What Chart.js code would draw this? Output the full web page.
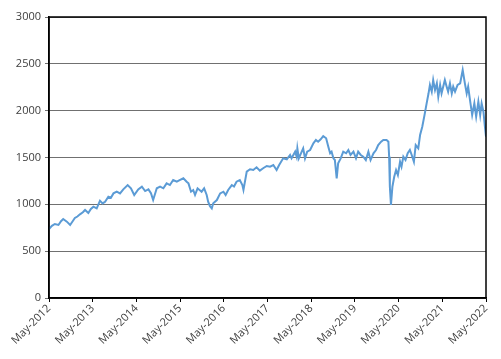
<!DOCTYPE html>
<html>
<head>
<meta charset="utf-8">
<script src="https://cdn.jsdelivr.net/npm/chart.js@4/dist/chart.umd.min.js"></script>
<style>
  html, body { margin: 0; padding: 0; background: #fff; }
  #wrap { width: 501px; height: 359px; }
</style>
</head>
<body>
<div id="wrap"><canvas id="grafico"></canvas></div>
<script>
// months after May-2012
const meses = [
  0, 0.8, 1.6, 2.6, 3.3, 3.9, 4.9, 5.8, 6.5, 7.1, 7.8, 8.5, 9.3, 9.9, 10.8, 11.5,
  12.2, 13.1, 14.0, 14.7, 15.4, 16.3, 17.0, 17.7, 18.6, 19.5, 20.4, 21.6, 22.5, 23.4,
  24.5, 25.5, 26.4, 27.3, 28.0, 28.6, 29.6, 30.5, 31.4, 32.3, 33.2, 34.1, 35.1,
  36.0, 36.9, 37.8, 38.3, 39.0, 39.6, 40.1, 40.8, 41.9, 42.6, 43.3, 43.7, 44.2, 44.7,
  45.1, 46.1, 47.0, 47.9, 48.5, 49.2, 50.2, 50.8, 51.5, 52.4, 53.1, 53.4, 54.3,
  55.2, 56.1, 57.0, 57.9, 58.8, 59.8,
  60.7, 61.6, 62.5, 63.2, 64.3, 65.3, 66.2, 66.6, 67.6, 68.0, 68.2, 68.6, 69.4,
  69.8, 70.3, 70.9, 71.7, 72.6, 73.3, 73.9, 74.6, 75.3, 76.1, 76.7, 77.2, 77.6,
  78.1, 78.5, 79.0, 79.4, 80.1, 80.8, 81.6, 82.2, 82.8, 83.6, 84.3, 84.9, 85.6,
  86.3, 87.0, 87.7, 88.3, 89.1, 89.8, 90.4, 91.2, 91.8, 92.7, 93.2, 93.4, 93.6,
  93.9, 94.3, 94.8, 95.3, 95.8, 96.4, 96.8, 97.3, 97.9, 98.5, 99.1, 99.6, 100.2,
  100.7, 101.4, 101.9, 102.5, 103.1, 103.7, 104.2, 104.6, 105.1, 105.5, 106.0,
  106.5, 106.9, 107.4, 107.8, 108.7, 109.2, 109.6, 110.1, 110.6, 111.0, 111.5,
  112.2, 112.9, 113.6, 114.2, 114.7, 115.1, 115.6, 116.2, 116.8, 117.3, 117.9,
  118.4, 118.8, 119.3, 119.7, 120
];

const valores = [
  737, 770, 790, 780, 820, 843, 815, 780, 820, 854, 870, 893, 915, 940, 907, 950,
  975, 957, 1039, 1010, 1028, 1081, 1070, 1117, 1135, 1117, 1160, 1206, 1171, 1100,
  1160, 1188, 1142, 1160, 1120, 1046, 1171, 1188, 1171, 1224, 1206, 1260, 1242,
  1260, 1278, 1242, 1224, 1135, 1153, 1100, 1171, 1135, 1171, 1100, 1028, 980, 957,
  1011, 1046, 1117, 1135, 1100, 1153, 1206, 1190, 1242, 1260, 1206, 1153, 1349,
  1374, 1367, 1395, 1360, 1385, 1409,
  1402, 1420, 1367, 1420, 1491, 1480, 1527, 1491, 1562, 1509, 1598, 1491, 1562,
  1598, 1491, 1562, 1580, 1651, 1687, 1669, 1694, 1729, 1705, 1615, 1545, 1562,
  1491, 1473, 1278, 1438, 1491, 1562, 1545, 1580, 1527, 1562, 1491, 1562, 1527,
  1509, 1473, 1562, 1473, 1545, 1580, 1633, 1669, 1687, 1687, 1669, 1509, 1188,
  993, 1188, 1295, 1367, 1313, 1455, 1402, 1509, 1473, 1545, 1580, 1527, 1455,
  1633, 1598, 1740, 1829, 1950, 2078, 2180, 2274, 2203, 2327, 2220,
  2292, 2149, 2274, 2185, 2327, 2256, 2203, 2292, 2185, 2256, 2203,
  2274, 2292, 2434, 2292, 2185, 2256, 2114, 1954, 2078, 1936, 2096,
  1954, 2078, 1989, 1829, 1722
];

const anoInicial = 2012;
const yTicks = [0, 500, 1000, 1500, 2000, 2500, 3000];

const pontos = meses.map((m, i) => ({ x: m, y: valores[i] }));

const moldura = {
  id: "moldura",
  afterDraw(chart) {
    const { ctx, chartArea: a } = chart;
    ctx.save();
    ctx.strokeStyle = "#000";
    ctx.lineWidth = 1.5;
    ctx.strokeRect(a.left, a.top, a.right - a.left, a.bottom - a.top);
    ctx.restore();
  }
};

const fonte = { family: "'Open Sans', 'Noto Sans', sans-serif", size: 11 };

new Chart(document.getElementById("grafico"), {
  type: "line",
  data: {
    datasets: [
      {
        data: pontos,
        borderColor: "#5b9bd5",
        borderWidth: 2,
        pointRadius: 0,
        tension: 0,
        fill: false
      }
    ]
  },
  options: {
    responsive: true,
    maintainAspectRatio: false,
    animation: false,
    layout: { padding: { top: 17, right: 15, left: 0, bottom: 0 } },
    plugins: { legend: { display: false }, tooltip: { enabled: false } },
    scales: {
      x: {
        type: "linear",
        min: 0,
        max: 120,
        ticks: {
          stepSize: 12,
          minRotation: 45,
          maxRotation: 45,
          color: "#404040",
          font: fonte,
          padding: 0,
          callback: (v) => "May-" + (anoInicial + v / 12)
        },
        grid: { drawOnChartArea: false, color: "#000", tickLength: 4 },
        border: { color: "#000", width: 1.5 },
        afterFit: (s) => { s.height = 61; }
      },
      y: {
        min: 0,
        max: 3000,
        afterBuildTicks: (s) => { s.ticks = yTicks.map((v) => ({ value: v })); },
        ticks: { color: "#404040", font: fonte, padding: 4, callback: (v) => String(v) },
        grid: { color: "#707070", tickLength: 4 },
        border: { color: "#000", width: 1.5 },
        afterFit: (s) => { s.width = 49; }
      }
    }
  },
  plugins: [moldura]
});
</script>
</body>
</html>
